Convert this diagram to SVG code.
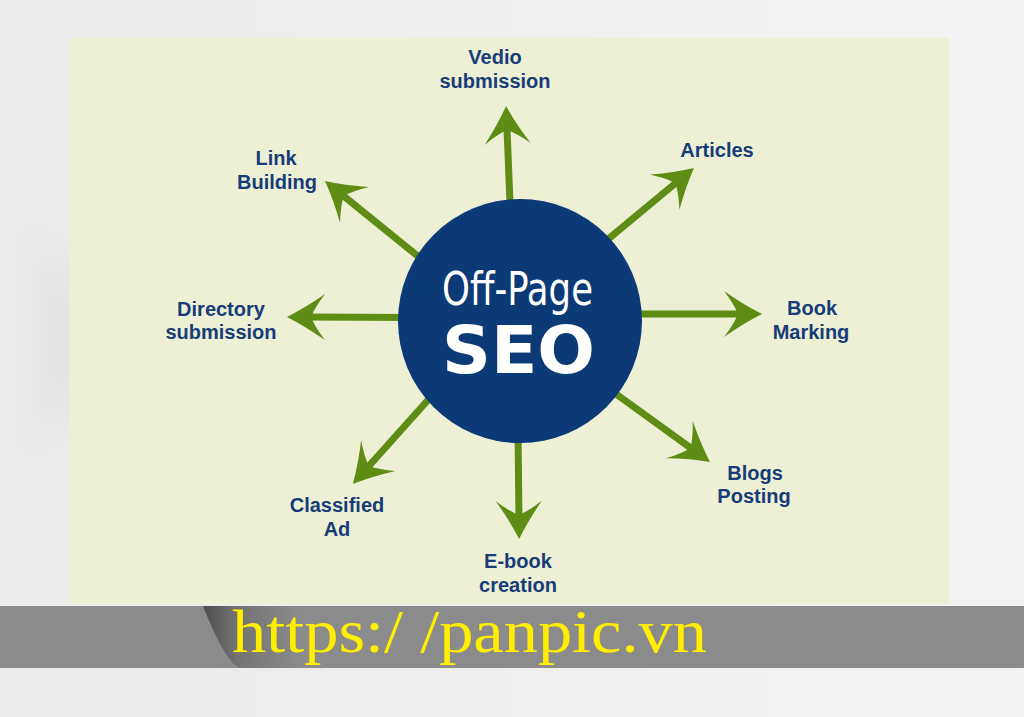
<svg xmlns="http://www.w3.org/2000/svg" width="1024" height="717" viewBox="0 0 1024 717">
  <style>
    .lbl { font-family: "Liberation Sans", Arial, sans-serif; font-weight: bold; font-size: 20px; fill: #173c78; text-anchor: middle; }
    .conn { stroke: #5f8c15; stroke-width: 7; fill: none; marker-end: url(#ah); }
  </style>
  <defs>
    <marker id="ah" markerUnits="userSpaceOnUse" viewBox="-25 -25 50 50" markerWidth="50" markerHeight="50" refX="0" refY="0" orient="auto" overflow="visible">
      <path d="M18,0 Q0,-9 -20,-23 Q-10,-10 -6,0 Q-10,10 -20,23 Q0,9 18,0 Z" fill="#5f8c15"/>
    </marker>
    <linearGradient id="bg" x1="0" y1="0" x2="1" y2="0">
      <stop offset="0" stop-color="#ebebeb"/>
      <stop offset="1" stop-color="#f3f3f3"/>
    </linearGradient>
    <linearGradient id="curl" x1="0" y1="0" x2="1" y2="0">
      <stop offset="0" stop-color="#4e4e4e"/>
      <stop offset="0.35" stop-color="#737373"/>
      <stop offset="1" stop-color="#8b8b8b"/>
    </linearGradient>
    <filter id="blur" x="-100%" y="-50%" width="300%" height="200%">
      <feGaussianBlur stdDeviation="18"/>
    </filter>
  </defs>

  <!-- background -->
  <rect x="0" y="0" width="1024" height="717" fill="url(#bg)"/>
  <rect x="45" y="260" width="25" height="160" fill="#d6d6d6" opacity="0.6" filter="url(#blur)"/>

  <!-- panel -->
  <rect x="70" y="38" width="879" height="566" fill="#edf0d5"/>

  <!-- bottom band -->
  <rect x="0" y="606" width="1024" height="62" fill="#8b8b8b"/>
  <path d="M203,606 L300,606 L300,668 L240,668 Q226,664 203,606 Z" fill="url(#curl)"/>
  <text x="232" y="652" font-family="Liberation Serif, 'Times New Roman', serif" font-size="62" fill="#ffee00" textLength="475" lengthAdjust="spacingAndGlyphs">https:/ /panpic.vn</text>

  <!-- connectors -->
  <g id="connectors">
    <line class="conn" x1="510.5" y1="215" x2="506.8" y2="124"/>
    <line class="conn" x1="595" y1="250" x2="680.1" y2="179.4"/>
    <line class="conn" x1="625" y1="314" x2="744" y2="314"/>
    <line class="conn" x1="605" y1="386" x2="695.4" y2="451.4"/>
    <line class="conn" x1="518" y1="430" x2="519" y2="521"/>
    <line class="conn" x1="437" y1="390" x2="364.9" y2="470.5"/>
    <line class="conn" x1="410" y1="317.5" x2="305" y2="317"/>
    <line class="conn" x1="430" y1="266" x2="339" y2="192.3"/>
  </g>

  <!-- central node -->
  <g id="center">
    <circle cx="520" cy="321" r="122" fill="#0b3a77"/>
    <text x="517.5" y="305" font-family="'DejaVu Sans Condensed', 'DejaVu Sans', sans-serif" font-size="46" fill="#ffffff" text-anchor="middle" textLength="151" lengthAdjust="spacingAndGlyphs">Off-Page</text>
    <text x="518.5" y="373" font-family="'DejaVu Sans', sans-serif" font-weight="bold" font-size="66" fill="#ffffff" text-anchor="middle" textLength="153" lengthAdjust="spacingAndGlyphs">SEO</text>
  </g>

  <!-- labels -->
  <g id="vedio"><text class="lbl" x="495" y="64">Vedio</text><text class="lbl" x="495" y="88">submission</text></g>
  <g id="articles"><text class="lbl" x="717" y="157">Articles</text></g>
  <g id="bookmarking"><text class="lbl" x="812" y="315">Book</text><text class="lbl" x="811" y="339">Marking</text></g>
  <g id="blogs"><text class="lbl" x="755" y="480">Blogs</text><text class="lbl" x="754" y="503">Posting</text></g>
  <g id="ebook"><text class="lbl" x="518" y="568">E-book</text><text class="lbl" x="518" y="592">creation</text></g>
  <g id="classified"><text class="lbl" x="337" y="512">Classified</text><text class="lbl" x="337" y="536">Ad</text></g>
  <g id="directory"><text class="lbl" x="221" y="316">Directory</text><text class="lbl" x="221" y="339">submission</text></g>
  <g id="link"><text class="lbl" x="276" y="165">Link</text><text class="lbl" x="277" y="189">Building</text></g>
</svg>
